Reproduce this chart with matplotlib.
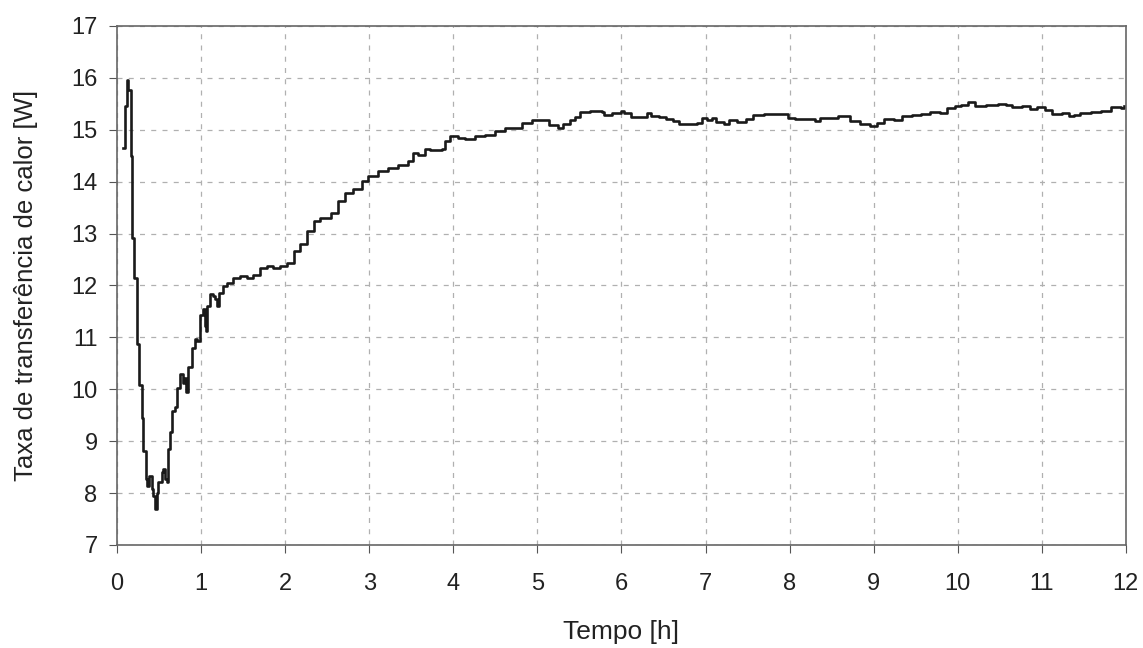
import matplotlib
matplotlib.use("Agg")
import matplotlib.pyplot as plt

tempo_h = [0.075, 0.099, 0.115, 0.127, 0.163, 0.183, 0.202, 0.234, 0.266, 0.294,
           0.313, 0.341, 0.353, 0.385, 0.413, 0.433, 0.452, 0.472, 0.492, 0.532,
           0.552, 0.571, 0.591, 0.611, 0.631, 0.651, 0.69, 0.718, 0.75, 0.782,
           0.798, 0.821, 0.849, 0.889, 0.929, 0.948, 0.988, 1.028, 1.048, 1.06,
           1.075, 1.107, 1.147, 1.167, 1.187, 1.218, 1.266, 1.306, 1.385, 1.464,
           1.544, 1.623, 1.702, 1.782, 1.861, 1.94, 2.02, 2.10, 2.18, 2.26,
           2.34, 2.42, 2.54, 2.60, 2.63, 2.71, 2.81, 2.91, 2.99, 3.10,
           3.22, 3.34, 3.46, 3.52, 3.58, 3.66, 3.72, 3.86, 3.90, 3.96,
           4.06, 4.14, 4.26, 4.38, 4.50, 4.62, 4.74, 4.82, 4.94, 5.08,
           5.14, 5.24, 5.31, 5.39, 5.45, 5.51, 5.63, 5.77, 5.79, 5.89,
           5.99, 6.03, 6.11, 6.27, 6.30, 6.35, 6.45, 6.53, 6.61, 6.69,
           6.78, 6.90, 6.96, 7.02, 7.08, 7.12, 7.22, 7.28, 7.38, 7.48,
           7.56, 7.62, 7.69, 7.92, 7.98, 8.06, 8.18, 8.30, 8.36, 8.50,
           8.58, 8.72, 8.84, 8.96, 9.04, 9.12, 9.24, 9.34, 9.46, 9.56,
           9.67, 9.79, 9.87, 9.97, 10.04, 10.12, 10.21, 10.34, 10.48, 10.58,
           10.64, 10.76, 10.86, 10.94, 11.04, 11.12, 11.24, 11.32, 11.38, 11.46,
           11.58, 11.70, 11.82, 11.94, 11.98]

taxa_w = [14.65, 15.45, 15.96, 15.77, 14.49, 12.92, 12.15, 10.87, 10.09, 9.45,
          8.81, 8.27, 8.14, 8.33, 8.08, 7.95, 7.69, 8.01, 8.21, 8.40,
          8.46, 8.27, 8.21, 8.85, 9.17, 9.58, 9.65, 10.03, 10.29, 10.13,
          10.22, 9.94, 10.42, 10.80, 10.96, 10.93, 11.44, 11.54, 11.22, 11.12,
          11.60, 11.83, 11.79, 11.73, 11.60, 11.86, 11.99, 12.05, 12.15, 12.18,
          12.15, 12.21, 12.34, 12.37, 12.34, 12.37, 12.44, 12.66, 12.79, 13.04,
          13.24, 13.30, 13.40, 13.40, 13.62, 13.78, 13.85, 14.01, 14.10, 14.20,
          14.26, 14.33, 14.40, 14.55, 14.51, 14.63, 14.60, 14.62, 14.78, 14.87,
          14.85, 14.83, 14.87, 14.89, 14.97, 15.03, 15.03, 15.13, 15.19, 15.19,
          15.10, 15.03, 15.12, 15.18, 15.24, 15.35, 15.37, 15.35, 15.29, 15.33,
          15.37, 15.33, 15.24, 15.24, 15.33, 15.26, 15.24, 15.21, 15.16, 15.12,
          15.12, 15.13, 15.22, 15.18, 15.22, 15.15, 15.12, 15.18, 15.15, 15.20,
          15.28, 15.29, 15.31, 15.31, 15.22, 15.21, 15.21, 15.16, 15.22, 15.22,
          15.26, 15.17, 15.11, 15.08, 15.13, 15.21, 15.19, 15.26, 15.28, 15.30,
          15.35, 15.32, 15.41, 15.45, 15.47, 15.53, 15.46, 15.47, 15.49, 15.47,
          15.43, 15.45, 15.40, 15.43, 15.38, 15.30, 15.33, 15.26, 15.28, 15.32,
          15.35, 15.37, 15.43, 15.41, 15.46]

x_ticks = list(range(0, 13))
y_ticks = list(range(7, 18))

plt.rcParams['font.family'] = ['Liberation Sans', 'DejaVu Sans']

fig = plt.figure(figsize=(11.43, 6.48), dpi=100)
ax = fig.add_axes([0.1024, 0.159, 0.8826, 0.801])

ax.plot(tempo_h, taxa_w, color='#1a1a1a', lw=1.9, drawstyle='steps-post')

ax.set_xlim(0, 12)
ax.set_ylim(7, 17)
ax.set_xticks(x_ticks)
ax.set_yticks(y_ticks)
ax.tick_params(axis='both', labelsize=17, direction='out', length=6,
               color='#555555', labelcolor='#222222')
ax.tick_params(axis='x', pad=14)
ax.tick_params(axis='y', pad=8)
ax.grid(True, color='#b0b0b0', linestyle=(0, (4, 5)), linewidth=0.9)
for s in ax.spines.values():
    s.set_color('#666666')
    s.set_linewidth(1.2)

ax.set_xlabel('Tempo [h]', fontsize=19, color='#222222', labelpad=18)
ax.set_ylabel('Taxa de transferência de calor [W]', fontsize=18.5, color='#222222', labelpad=24)

fig.savefig('out.png', dpi=100, facecolor='white')
